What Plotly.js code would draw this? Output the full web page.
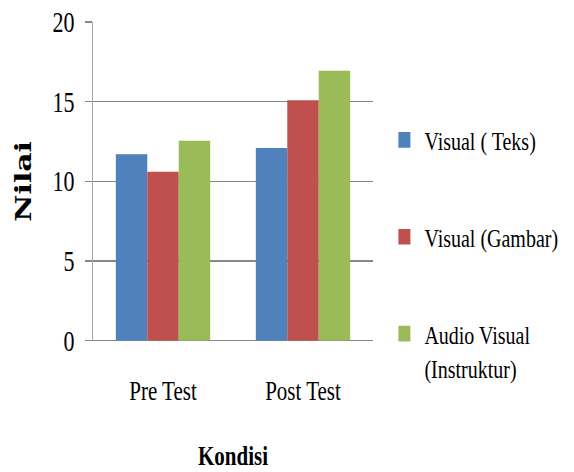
<!DOCTYPE html>
<html>
<head>
<meta charset="utf-8">
<script src="https://cdn.plot.ly/plotly-3.0.1.min.js"></script>
<style>
html, body { margin: 0; padding: 0; background: #fff; overflow: hidden; }
#wrap { width: 574px; height: 472px; overflow: hidden; }
#chart { width: 574px; height: 363px; transform: scaleY(1.30028); transform-origin: 0 0; }
</style>
</head>
<body>
<div id="wrap"><div id="chart"></div></div>
<script>
var categories = ["Pre Test", "Post Test"];
var seriesNames = ["Visual ( Teks)", "Visual (Gambar)", "Audio Visual<br>(Instruktur)"];
var visualTeks = [11.7, 12.1];
var visualGambar = [10.6, 15.1];
var audioVisual = [12.55, 16.95];
var yTicks = [0, 5, 10, 15, 20];
var colors = ["#4F81BD", "#C0504D", "#9BBB59"];

var serif = "Liberation Serif";
var seriesValues = [visualTeks, visualGambar, audioVisual];
var traces = seriesValues.map(function (vals, i) {
  return {
    type: "bar",
    name: seriesNames[i],
    x: categories,
    y: vals,
    marker: { color: colors[i], line: { width: 0 } },
    legendgroup: "g" + i,
    hoverinfo: "skip"
  };
});

var layout = {
  width: 574,
  height: 363,
  margin: { l: 93, r: 200, t: 17, b: 101 },
  paper_bgcolor: "#ffffff",
  plot_bgcolor: "#ffffff",
  barmode: "group",
  bargap: 0.326,
  bargroupgap: 0,
  font: { family: serif, size: 21, color: "#000000" },
  showlegend: true,
  legend: {
    x: 1.037, y: 0.71, xanchor: "left", yanchor: "top",
    font: { family: serif, size: 20, color: "#000000" },
    tracegroupgap: 45.5,
    valign: "top",
    bgcolor: "rgba(0,0,0,0)"
  },
  xaxis: {
    type: "category",
    showgrid: false,
    showline: false,
    ticks: "",
    ticklabelstandoff: 24,
    tickfont: { family: serif, size: 21, color: "#000000" },
    title: { text: "Kondisi", font: { family: serif, size: 21, color: "#000000", weight: "bold" }, standoff: 41 },
    fixedrange: true
  },
  yaxis: {
    range: [0, 20],
    tickvals: yTicks,
    ticktext: yTicks.map(String),
    showgrid: true,
    gridcolor: "#878787",
    gridwidth: 1,
    zeroline: true,
    zerolinecolor: "#878787",
    showline: true,
    linecolor: "#A6A6A6",
    linewidth: 1,
    ticks: "outside",
    ticklen: 7,
    tickcolor: "#878787",
    ticklabelstandoff: 6,
    tickfont: { family: serif, size: 22, color: "#000000" },
    title: { text: "Nilai", font: { family: "DejaVu Serif", size: 23, color: "#000000", weight: "bold" }, standoff: 14 },
    fixedrange: true
  }
};

Plotly.newPlot("chart", traces, layout, { displayModeBar: false, staticPlot: true });
</script>
</body>
</html>
